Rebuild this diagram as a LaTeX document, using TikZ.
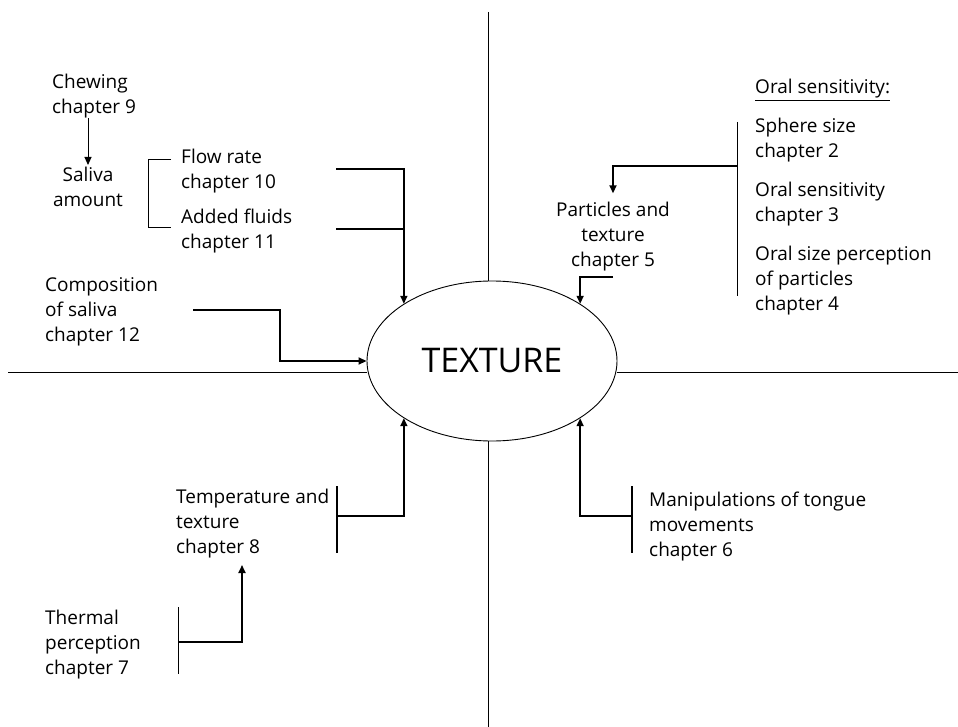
\documentclass[tikz,border=0pt]{standalone}
\usepackage{fontspec}
\setmainfont{Open Sans}
\usetikzlibrary{arrows.meta,positioning,shapes.geometric}

\begin{document}
\begin{tikzpicture}[
  x=1pt, y=-1pt,
  txt/.style={inner sep=0pt, align=left, font=\fontsize{19}{25}\selectfont, anchor=west},
  ctxt/.style={txt, align=center, anchor=center},
  thinline/.style={line width=0.9pt},
  conn/.style={line width=1.7pt},
  arrow/.style={conn, -{Triangle[length=8pt, width=7pt]}},
]
\useasboundingbox (0,0) rectangle (958,727);

% Centre
\node[ellipse, draw, thinline, minimum width=250pt, minimum height=160pt, inner sep=0pt,
  font=\fontsize{34}{40}\selectfont] (tex) at (492,361) {\raisebox{-3pt}{TEXTURE}};

% Axes
\coordinate (ax-top) at (488,12);
\coordinate (ax-bot) at (488,727);
\coordinate (ax-left) at (8,372);
\coordinate (ax-right) at (958,372);
\draw[thinline] (ax-top) -- (ax-top |- tex.north);
\draw[thinline] (ax-bot) -- (ax-bot |- tex.south);
\draw[thinline] (ax-left) -- (ax-left -| tex.west);
\draw[thinline] (ax-right) -- (ax-right -| tex.east);

% Saliva (top left)
\node[txt] (chew) at (52,96) {Chewing\\chapter 9};
\node[ctxt] (saliva) at (88,187) {Saliva\\amount};
\node[txt] (flow) at (181,171) {Flow rate\\chapter 10};
\node[txt] (fluid) at (181,231) {Added fluids\\chapter 11};
\node[txt] (comp) at (45,312) {Composition\\of saliva\\chapter 12};

\draw[arrow, line width=1pt] (saliva.north |- chew.south) -- ([yshift=2pt]saliva.north);
\draw[thinline] (171,159) -- (148,159) -- (148,227) -- (171,227);

\coordinate (flow-out) at (336,169);
\coordinate (fluid-out) at (336,229);
\coordinate (comp-out) at (193,310);
\draw[arrow] (flow-out) -| (tex.147);
\draw[conn] (fluid-out) -- (fluid-out -| tex.147);
\draw[arrow] (comp-out) -- ++(87,0) |- (tex.west);

% Oral sensitivity (top right)
\node[txt] (oral) at (755,90) {\underline{Oral sensitivity:}};
\node[txt] (sphere) at (755,140) {Sphere size\\chapter 2};
\node[txt] (sens) at (755,204) {Oral sensitivity\\chapter 3};
\node[txt] (size) at (755,281) {Oral size perception\\of particles\\chapter 4};
\node[ctxt] (part) at (613,237) {Particles and\\texture\\chapter 5};

\coordinate (oral-top) at (737,122);
\coordinate (oral-bot) at (737,296);
\coordinate (oral-out) at (737,166);
\draw[thinline] (oral-top) -- (oral-bot);
\draw[arrow] (oral-out) -| ([yshift=9pt]part.north);
\draw[arrow] ([yshift=-5pt]part.south) -| (tex.33);

% Tongue (bottom right)
\node[txt] (tongue) at (649,527) {Manipulations of tongue\\movements\\chapter 6};
\coordinate (tongue-top) at (632,486);
\coordinate (tongue-bot) at (632,553);
\coordinate (tongue-out) at (632,516);
\draw[conn] (tongue-top) -- (tongue-bot);
\draw[arrow] (tongue-out) -| (tex.-33);

% Temperature (bottom left)
\node[txt] (temp) at (176,524) {Temperature and\\texture\\chapter 8};
\node[txt] (therm) at (45,645) {Thermal\\perception\\chapter 7};
\coordinate (temp-top) at (337,486);
\coordinate (temp-bot) at (337,553);
\coordinate (temp-out) at (337,516);
\coordinate (temp-in) at (242,565);
\coordinate (therm-top) at (178,607);
\coordinate (therm-bot) at (178,674);
\coordinate (therm-out) at (178,642);
\draw[conn] (temp-top) -- (temp-bot);
\draw[arrow] (temp-out) -| (tex.-147);
\draw[thinline] (therm-top) -- (therm-bot);
\draw[arrow] (therm-out) -| (temp-in);
\end{tikzpicture}
\end{document}
